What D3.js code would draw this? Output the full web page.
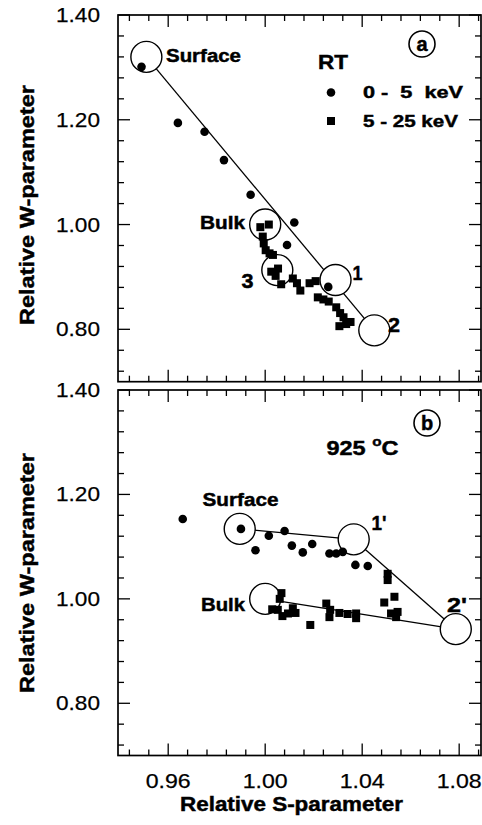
<!DOCTYPE html>
<html>
<head>
<meta charset="utf-8">
<script src="https://cdn.jsdelivr.net/npm/d3@7"></script>
<style>
  html, body { margin: 0; padding: 0; background: #fff; }
  svg { display: block; }
  text { font-family: "Liberation Sans", Arial, Helvetica, sans-serif; fill: #000; }
  .bold { font-weight: bold; stroke: #000; stroke-width: 0.45px; }
  .tick { stroke: #000; stroke-width: 0.25px; }
</style>
</head>
<body>
<svg id="chart" width="482" height="825"></svg>
<script>
// ---- data -------------------------------------------------------------
const sMajorTicks = [0.96, 1.00, 1.04, 1.08];
const wMajorTicks = [0.80, 1.00, 1.20, 1.40];
const sDomain = [0.9393, 1.0890];
const wDomain = [0.70, 1.40];

// Panel (a): room temperature, [S, W]
const rtLow = [
  [0.949, 1.301], [0.964, 1.194], [0.975, 1.177], [0.983, 1.123],
  [0.994, 1.057], [1.012, 1.004], [1.009, 0.961], [1.026, 0.881]
];
const rtHigh = [
  [0.998, 0.995], [1.0015, 1.000], [0.999, 0.977], [0.9994, 0.964],
  [1.0002, 0.951], [1.0018, 0.945], [1.0032, 0.942], [1.0025, 0.910],
  [1.0053, 0.916], [1.0043, 0.902], [1.0066, 0.886], [1.0114, 0.897],
  [1.0131, 0.888], [1.0145, 0.874], [1.0183, 0.888], [1.0208, 0.892],
  [1.0217, 0.861], [1.0240, 0.857], [1.0262, 0.853], [1.0293, 0.842],
  [1.0309, 0.831], [1.0323, 0.823], [1.0306, 0.806], [1.0334, 0.810],
  [1.0352, 0.814]
];
const rtStates = [
  { name: "Surface", s: 0.951, w: 1.320 },
  { name: "Bulk",    s: 1.000, w: 1.000 },
  { name: "3",       s: 1.005, w: 0.913 },
  { name: "1",       s: 1.029, w: 0.894 },
  { name: "2",       s: 1.045, w: 0.798 }
];
const rtLines = [["Surface", "2"]];

// Panel (b): annealed at 925 °C, [S, W]
const annLow = [
  [0.966, 1.153], [0.990, 1.134], [1.0015, 1.121], [1.008, 1.130],
  [0.996, 1.093], [1.011, 1.102], [1.0155, 1.089], [1.0194, 1.105],
  [1.0265, 1.087], [1.0293, 1.087], [1.032, 1.090], [1.0372, 1.065],
  [1.0423, 1.063]
];
const annHigh = [
  [1.0067, 1.011], [1.006, 1.000], [1.0029, 0.980], [1.0052, 0.979],
  [1.0071, 0.967], [1.0094, 0.972], [1.0114, 0.982], [1.0125, 0.973],
  [1.0186, 0.950], [1.0252, 0.991], [1.0268, 0.979], [1.0265, 0.965],
  [1.0306, 0.973], [1.0340, 0.971], [1.0375, 0.972], [1.0375, 0.963],
  [1.0505, 1.036], [1.0505, 1.048], [1.0533, 1.004], [1.0491, 0.993],
  [1.0519, 0.972], [1.0546, 0.975], [1.0540, 0.965]
];
const annStates = [
  { name: "Surface", s: 0.9895, w: 1.134 },
  { name: "Bulk",    s: 1.000,  w: 1.000 },
  { name: "1'",      s: 1.0365, w: 1.114 },
  { name: "2'",      s: 1.0786, w: 0.942 }
];
const annLines = [["Surface", "1'"], ["1'", "2'"], ["Bulk", "2'"]];

const legendLabels = ["0 -  5  keV", "5 - 25 keV"];

// ---- layout -----------------------------------------------------------
const svg = d3.select("#chart");
const X0 = 118, X1 = 481;
const x = d3.scaleLinear().domain(sDomain).range([X0, X1]);

const sMinor = d3.range(0, 19).map(i => +(0.944 + i * 0.008).toFixed(3))
  .filter(v => v > sDomain[0] && v < sDomain[1]);
const wMinor = d3.range(0, 18).map(i => +(0.72 + i * 0.04).toFixed(2))
  .filter(v => v >= wDomain[0] && v <= wDomain[1]);
const isMajor = (v, arr) => arr.some(m => Math.abs(m - v) < 1e-6);

const STATE_R = 15.5, DOT_R = 4.3, SQ = 8;

function drawPanel(top, bottom, low, high, states, links) {
  const y = d3.scaleLinear().domain(wDomain).range([bottom, top]);
  const g = svg.append("g");

  // tick marks on all four sides, pointing inward
  const tk = g.append("g").attr("stroke", "#000").attr("stroke-width", 1.3);
  sMinor.forEach(v => {
    const L = isMajor(v, sMajorTicks) ? 12 : 6;
    tk.append("line").attr("x1", x(v)).attr("x2", x(v)).attr("y1", bottom).attr("y2", bottom - L);
    tk.append("line").attr("x1", x(v)).attr("x2", x(v)).attr("y1", top).attr("y2", top + L);
  });
  wMinor.forEach(v => {
    const L = isMajor(v, wMajorTicks) ? 12 : 6;
    tk.append("line").attr("x1", X0).attr("x2", X0 + L).attr("y1", y(v)).attr("y2", y(v));
    tk.append("line").attr("x1", X1).attr("x2", X1 - L).attr("y1", y(v)).attr("y2", y(v));
  });

  // frame
  g.append("rect").attr("x", X0).attr("y", top).attr("width", X1 - X0).attr("height", bottom - top)
    .attr("fill", "none").attr("stroke", "#000").attr("stroke-width", 1.7);

  // y tick labels
  wMajorTicks.forEach(v => {
    g.append("text").attr("class", "tick").attr("x", 100).attr("y", y(v) + 1.5)
      .attr("text-anchor", "end").attr("dominant-baseline", "middle")
      .attr("font-size", 21).attr("textLength", 44).attr("lengthAdjust", "spacingAndGlyphs")
      .text(d3.format(".2f")(v));
  });

  // connecting lines between characteristic states
  const byName = Object.fromEntries(states.map(d => [d.name, d]));
  g.append("g").selectAll("line").data(links).join("line")
    .attr("x1", d => x(byName[d[0]].s)).attr("y1", d => y(byName[d[0]].w))
    .attr("x2", d => x(byName[d[1]].s)).attr("y2", d => y(byName[d[1]].w))
    .attr("stroke", "#000").attr("stroke-width", 1.3);

  // open circles marking the states
  g.append("g").selectAll("circle").data(states).join("circle")
    .attr("cx", d => x(d.s)).attr("cy", d => y(d.w)).attr("r", STATE_R)
    .attr("fill", "#fff").attr("stroke", "#000").attr("stroke-width", 1.4);

  // 0-5 keV: filled circles
  g.append("g").selectAll("circle").data(low).join("circle")
    .attr("cx", d => x(d[0])).attr("cy", d => y(d[1])).attr("r", DOT_R).attr("fill", "#000");

  // 5-25 keV: filled squares
  g.append("g").selectAll("rect").data(high).join("rect")
    .attr("x", d => x(d[0]) - SQ / 2).attr("y", d => y(d[1]) - SQ / 2)
    .attr("width", SQ).attr("height", SQ).attr("fill", "#000");

  return { g, y };
}

function label(g, txt, xPos, yPos, size, width, anchor) {
  const t = g.append("text").attr("class", "bold").attr("x", xPos).attr("y", yPos)
    .attr("font-size", size).attr("text-anchor", anchor || "start")
    .style("white-space", "pre").text(txt);
  if (width) t.attr("textLength", width).attr("lengthAdjust", "spacingAndGlyphs");
  return t;
}

function panelTag(g, letter, cx, cy) {
  g.append("circle").attr("cx", cx).attr("cy", cy).attr("r", 13)
    .attr("fill", "#fff").attr("stroke", "#000").attr("stroke-width", 1.6);
  g.append("text").attr("class", "bold").attr("x", cx).attr("y", cy + 7).attr("text-anchor", "middle")
    .attr("font-size", 20).text(letter);
}

// ---- panel (a) --------------------------------------------------------
const A = drawPanel(15, 381.7, rtLow, rtHigh, rtStates, rtLines);
label(A.g, "Surface", 166, 61.5, 18, 75);
label(A.g, "Bulk", 245, 228.5, 18, 45, "end");
label(A.g, "3", 241.5, 287.5, 20, 12);
label(A.g, "1", 352.5, 280, 20, 10);
label(A.g, "2", 388, 331.5, 20, 12);
panelTag(A.g, "a", 422, 44);

// legend
label(A.g, "RT", 318, 68.5, 20, 30);
A.g.append("circle").attr("cx", 331).attr("cy", 92.5).attr("r", DOT_R).attr("fill", "#000");
A.g.append("rect").attr("x", 331 - SQ / 2).attr("y", 121 - SQ / 2).attr("width", SQ).attr("height", SQ).attr("fill", "#000");
label(A.g, legendLabels[0], 363, 98, 17, 100);
label(A.g, legendLabels[1], 363, 126.5, 17, 95);

// ---- panel (b) --------------------------------------------------------
const B = drawPanel(390, 755.5, annLow, annHigh, annStates, annLines);
label(B.g, "Surface", 202.5, 505.5, 18, 76);
label(B.g, "Bulk", 245, 610.5, 18, 44, "end");
label(B.g, "1'", 371.5, 530, 20, 15);
label(B.g, "2'", 447, 612, 20, 20);
panelTag(B.g, "b", 427, 423);
const temp = B.g.append("text").attr("class", "bold").attr("x", 326.5).attr("y", 454.5)
  .attr("font-size", 20).attr("textLength", 72).attr("lengthAdjust", "spacingAndGlyphs");
temp.append("tspan").text("925 ");
temp.append("tspan").attr("font-size", 13).attr("dy", -9).text("o");
temp.append("tspan").attr("dy", 9).text("C");

// ---- axis labels ------------------------------------------------------
sMajorTicks.forEach(v => {
  svg.append("text").attr("class", "tick").attr("x", x(v)).attr("y", 787.5).attr("text-anchor", "middle")
    .attr("font-size", 20.5).attr("textLength", 45).attr("lengthAdjust", "spacingAndGlyphs")
    .text(d3.format(".2f")(v));
});
svg.append("text").attr("class", "bold").attr("x", 291.5).attr("y", 810.5).attr("text-anchor", "middle")
  .attr("font-size", 20).attr("textLength", 223).attr("lengthAdjust", "spacingAndGlyphs")
  .text("Relative S-parameter");
[205, 573].forEach(cy => {
  svg.append("text").attr("class", "bold").attr("transform", `translate(34,${cy}) rotate(-90)`)
    .attr("text-anchor", "middle").attr("font-size", 21)
    .attr("textLength", 240).attr("lengthAdjust", "spacingAndGlyphs")
    .text("Relative W-parameter");
});
</script>
</body>
</html>
